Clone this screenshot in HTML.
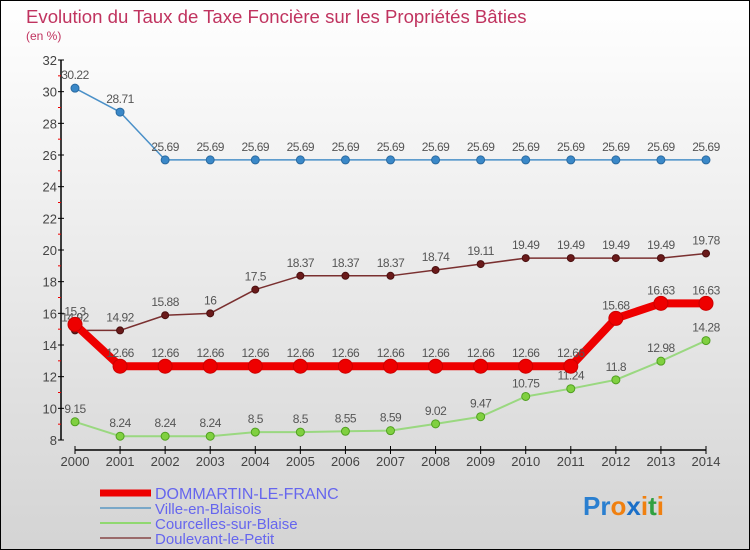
<!DOCTYPE html>
<html><head><meta charset="utf-8"><style>
body{margin:0}
#c{width:750px;height:550px;position:relative;background:linear-gradient(#ffffff,#d4d4d4);box-sizing:border-box;border:1px solid #000;overflow:hidden;font-family:"Liberation Sans",sans-serif}
</style></head><body>
<div id="c">
<svg id="s" width="750" height="550" style="position:absolute;left:-1px;top:-1px">
<text x="26" y="23" font-size="18.6" fill="#c0335f">Evolution du Taux de Taxe Foncière sur les Propriétés Bâties</text>
<text x="26" y="40" font-size="12" fill="#c0335f">(en %)</text>
<g id="ax"></g><g id="ser"></g>
<g>
<line x1="100" y1="493" x2="151" y2="493" stroke="#ee0000" stroke-width="7"/>
<text x="155" y="499" font-size="16" fill="#6666ee">DOMMARTIN-LE-FRANC</text>
<line x1="100" y1="508" x2="151" y2="508" stroke="#7aa8c8" stroke-width="2"/>
<text x="155" y="514" font-size="15" fill="#6666ee">Ville-en-Blaisois</text>
<line x1="100" y1="523" x2="151" y2="523" stroke="#90d870" stroke-width="2"/>
<text x="155" y="529" font-size="15" fill="#6666ee">Courcelles-sur-Blaise</text>
<line x1="100" y1="538" x2="151" y2="538" stroke="#9a6a6a" stroke-width="2"/>
<text x="155" y="544" font-size="15" fill="#6666ee">Doulevant-le-Petit</text>
</g>
<text x="583" y="515" font-size="26" font-weight="bold"><tspan fill="#2a7fd0">Pr</tspan><tspan fill="#f08010">o</tspan><tspan fill="#1a6fc8">x</tspan><tspan fill="#f08010">i</tspan><tspan fill="#30a040">t</tspan><tspan fill="#f08010">i</tspan></text>
</svg></div>
<script>
const years=[2000,2001,2002,2003,2004,2005,2006,2007,2008,2009,2010,2011,2012,2013,2014];
const yTicks=[8,10,12,14,16,18,20,22,24,26,28,30,32];
const dommartin=[15.3,12.66,12.66,12.66,12.66,12.66,12.66,12.66,12.66,12.66,12.66,12.66,15.68,16.63,16.63];
const ville=[30.22,28.71,25.69,25.69,25.69,25.69,25.69,25.69,25.69,25.69,25.69,25.69,25.69,25.69,25.69];
const courcelles=[9.15,8.24,8.24,8.24,8.5,8.5,8.55,8.59,9.02,9.47,10.75,11.24,11.8,12.98,14.28];
const doulevant=[14.92,14.92,15.88,16,17.5,18.37,18.37,18.37,18.74,19.11,19.49,19.49,19.49,19.49,19.78];
const NS="http://www.w3.org/2000/svg";
const X=i=>75+i*(631/14), Y=v=>440-(v-8)*(380/24);
function mk(t,a,p){const e=document.createElementNS(NS,t);for(const k in a)e.setAttribute(k,a[k]);p.appendChild(e);return e;}
const ax=document.getElementById('ax');
mk('line',{x1:61,y1:60,x2:61,y2:440,stroke:'#000','stroke-width':1.5},ax);
mk('line',{x1:75,y1:450,x2:706,y2:450,stroke:'#000','stroke-width':1.5},ax);
for(let v=9;v<32;v+=2){const l=mk('line',{x1:58,x2:61,y1:Y(v),y2:Y(v),stroke:'#e00'},ax);

}
yTicks.forEach(v=>{mk('line',{x1:58,x2:64,y1:Y(v),y2:Y(v),stroke:'#000'},ax);
const t=mk('text',{x:57,y:Y(v)+5,'font-size':13,fill:'#444','text-anchor':'end'},ax);t.textContent=v;

});
years.forEach((y,i)=>{mk('line',{x1:X(i),x2:X(i),y1:446,y2:454,stroke:'#000'},ax);
const t=mk('text',{x:X(i),y:466,'font-size':13,fill:'#444','text-anchor':'middle'},ax);t.textContent=y;

});
const ser=document.getElementById('ser');
function series(d,name,col,w,r,dot,stroke){
 const g=mk('g',{},ser);
 
 
 mk('polyline',{points:d.map((v,i)=>X(i)+','+Y(v)).join(' '),fill:'none',stroke:col,'stroke-width':w,'stroke-linejoin':'round'},g);
 d.forEach((v,i)=>{const c=mk('circle',{cx:X(i),cy:Y(v),r:r,fill:dot,stroke:stroke},g);
 
 
 const t=mk('text',{x:X(i),y:Y(v)-9,'font-size':12,fill:'#555','text-anchor':'middle','letter-spacing':'-0.5'},g);t.textContent=v;
 
 });
}
series(ville,'ville-series','#4a90c8',1.5,4,'#3a88c8','#2a6aa0');
series(courcelles,'courcelles-series','#9ad880',2,4,'#80d040','#50a020');
series(doulevant,'doulevant-series','#7a3030',1.5,3.5,'#6a1a1a','#4a1010');
series(dommartin,'dommartin-series','#ee0000',8,7,'#ee0000','#cc0000');
</script>
</body></html>
